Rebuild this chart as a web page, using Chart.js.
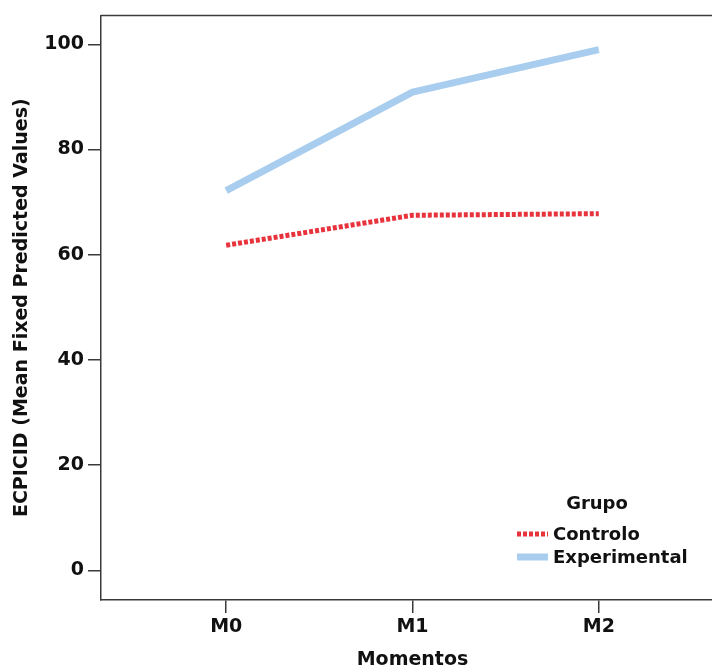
<!DOCTYPE html>
<html>
<head>
<meta charset="utf-8">
<script src="https://cdn.jsdelivr.net/npm/chart.js@4/dist/chart.umd.min.js"></script>
<style>
  html, body { margin: 0; padding: 0; background: #fff; overflow: hidden; }
  #wrap { width: 724px; height: 680px; }
</style>
</head>
<body>
<div id="wrap"><canvas id="grupoChart" width="724" height="680"></canvas></div>
<script>
const momentos = ['M0', 'M1', 'M2'];
const controlo = [61.8, 67.5, 67.8];
const experimental = [72.2, 90.9, 99.0];
const yTicks = [0, 20, 40, 60, 80, 100];
const grupoTitulo = 'Grupo';

const FONT = "'DejaVu Sans', 'Noto Sans', sans-serif";
const AXIS = '#3a3a3a';

const toPoints = vals => vals.map((v, i) => ({ x: i, y: v }));

// legenda dentro do gráfico, canto inferior direito
const insideLegend = {
  id: 'insideLegend',
  afterDatasetsDraw(chart, args, opts) {
    const ctx = chart.ctx;
    ctx.save();
    ctx.fillStyle = '#111';
    ctx.font = `bold 18px ${FONT}`;
    ctx.textBaseline = 'middle';
    ctx.textAlign = 'center';
    ctx.fillText(opts.title, opts.x + 80, opts.y + 1);
    ctx.textAlign = 'left';
    chart.data.datasets.forEach((ds, i) => {
      const y = opts.y + 31 + i * 23;
      ctx.beginPath();
      ctx.strokeStyle = ds.borderColor;
      ctx.lineWidth = ds.borderWidth;
      ctx.lineCap = 'butt';
      ctx.setLineDash(ds.borderDash || []);
      ctx.moveTo(opts.x, y);
      ctx.lineTo(opts.x + 31, y);
      ctx.stroke();
      ctx.setLineDash([]);
      ctx.fillText(ds.label, opts.x + 36, y + 1);
    });
    ctx.restore();
  }
};

// linha superior da moldura
const topFrame = {
  id: 'topFrame',
  beforeDatasetsDraw(chart) {
    const { ctx, chartArea } = chart;
    ctx.save();
    ctx.strokeStyle = AXIS;
    ctx.lineWidth = 1.5;
    ctx.beginPath();
    ctx.moveTo(chartArea.left, chartArea.top);
    ctx.lineTo(chartArea.right, chartArea.top);
    ctx.stroke();
    ctx.restore();
  }
};

new Chart(document.getElementById('grupoChart'), {
  type: 'line',
  data: {
    datasets: [
      {
        label: 'Controlo',
        data: toPoints(controlo),
        borderColor: '#e8333d',
        borderWidth: 5,
        borderDash: [4, 2],
        borderCapStyle: 'butt',
        pointRadius: 0,
        tension: 0
      },
      {
        label: 'Experimental',
        data: toPoints(experimental),
        borderColor: '#a9cdee',
        borderWidth: 7,
        borderJoinStyle: 'round',
        borderCapStyle: 'butt',
        pointRadius: 0,
        tension: 0
      }
    ]
  },
  options: {
    responsive: false,
    animation: false,
    layout: { padding: { top: 14, right: 0, left: 0, bottom: 0 } },
    scales: {
      x: {
        type: 'linear',
        min: -0.672,
        max: 2.672,
        afterBuildTicks: scale => { scale.ticks = momentos.map((_, i) => ({ value: i })); },
        afterFit: scale => { scale.height = 80; },
        ticks: {
          callback: v => momentos[v],
          color: '#111',
          font: { family: FONT, size: 19, weight: 'bold' },
          padding: 3,
          maxRotation: 0
        },
        grid: { drawOnChartArea: false, drawTicks: true, tickLength: 13, color: AXIS, lineWidth: 1.5 },
        border: { color: AXIS, width: 1.5 },
        title: {
          display: true,
          text: 'Momentos',
          color: '#111',
          font: { family: FONT, size: 19, weight: 'bold' },
          padding: { top: 0, bottom: 9 }
        }
      },
      y: {
        min: -5.65,
        max: 105.5,
        afterBuildTicks: scale => { scale.ticks = yTicks.map(v => ({ value: v })); },
        afterFit: scale => { scale.width = 101; },
        ticks: {
          color: '#111',
          font: { family: FONT, size: 19, weight: 'bold' },
          padding: 4
        },
        grid: { drawOnChartArea: false, drawTicks: true, tickLength: 13, color: AXIS, lineWidth: 1.5 },
        border: { color: AXIS, width: 1.5 },
        title: {
          display: true,
          text: 'ECPICID (Mean Fixed Predicted Values)',
          color: '#111',
          font: { family: FONT, size: 19, weight: 'bold' },
          padding: { top: 11, bottom: 0 }
        }
      }
    },
    plugins: {
      legend: { display: false },
      tooltip: { enabled: false },
      insideLegend: { title: grupoTitulo, x: 517, y: 503 }
    }
  },
  plugins: [topFrame, insideLegend]
});
</script>
</body>
</html>
